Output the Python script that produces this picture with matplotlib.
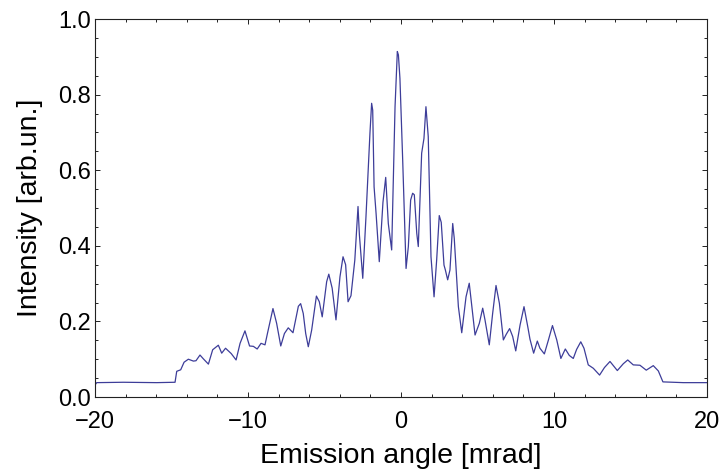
"""
Intensity profile versus emission angle.

Reproduces the measured angular distribution as a framed line plot.
"""

import matplotlib
matplotlib.use("Agg")
import matplotlib.pyplot as plt
from matplotlib.ticker import MultipleLocator


# Values (angle in mrad, intensity in arb. units)
angulo = [
    -20.00, -19.89, -18.15, -15.97, -14.77, -14.66, -14.40, -14.18, -13.90,
    -13.57, -13.40, -13.14, -12.92, -12.59, -12.31, -11.94, -11.72, -11.47,
    -11.10, -10.78, -10.52, -10.20, -9.90, -9.65, -9.40, -9.15, -8.89,
    -8.72, -8.37, -8.13, -7.86, -7.62, -7.37, -7.06, -6.71, -6.56,
    -6.39, -6.23, -6.06, -5.84, -5.53, -5.34, -5.15, -4.86, -4.72,
    -4.50, -4.25, -3.99, -3.79, -3.62, -3.46, -3.27, -3.02, -2.81,
    -2.72, -2.50, -2.29, -2.03, -1.92, -1.85, -1.76, -1.63, -1.42,
    -1.18, -1.00, -0.83, -0.61, -0.39, -0.24, -0.17, -0.07, 0.11,
    0.33, 0.48, 0.63, 0.76, 0.87, 1.03, 1.13, 1.35, 1.50,
    1.63, 1.78, 1.96, 2.16, 2.33, 2.50, 2.63, 2.81, 2.90,
    3.05, 3.20, 3.38, 3.48, 3.75, 3.97, 4.25, 4.46, 4.62,
    4.84, 5.12, 5.34, 5.49, 5.77, 5.99, 6.21, 6.43, 6.69,
    6.88, 7.10, 7.30, 7.50, 7.78, 8.04, 8.29, 8.43, 8.67,
    8.91, 9.08, 9.37, 9.63, 9.90, 10.18, 10.45, 10.74, 11.00,
    11.26, 11.48, 11.75, 11.96, 12.24, 12.57, 12.98, 13.30, 13.66,
    14.14, 14.53, 14.82, 15.18, 15.62, 16.03, 16.49, 16.82, 17.12,
    18.45, 20.00,
]

intensidad = [
    0.032, 0.038, 0.039, 0.038, 0.039, 0.068, 0.072, 0.092, 0.100,
    0.095, 0.096, 0.111, 0.101, 0.087, 0.125, 0.137, 0.116, 0.129,
    0.115, 0.098, 0.142, 0.175, 0.135, 0.134, 0.127, 0.142, 0.138,
    0.170, 0.234, 0.195, 0.135, 0.168, 0.183, 0.170, 0.240, 0.247,
    0.221, 0.168, 0.133, 0.177, 0.267, 0.252, 0.212, 0.305, 0.325,
    0.288, 0.204, 0.318, 0.371, 0.350, 0.252, 0.268, 0.362, 0.504,
    0.429, 0.314, 0.477, 0.698, 0.777, 0.759, 0.556, 0.486, 0.358,
    0.515, 0.581, 0.459, 0.389, 0.768, 0.914, 0.905, 0.843, 0.627,
    0.340, 0.398, 0.521, 0.539, 0.535, 0.433, 0.398, 0.645, 0.684,
    0.768, 0.689, 0.371, 0.265, 0.362, 0.480, 0.462, 0.349, 0.336,
    0.310, 0.336, 0.459, 0.420, 0.239, 0.170, 0.265, 0.301, 0.243,
    0.164, 0.195, 0.235, 0.204, 0.138, 0.221, 0.295, 0.248, 0.151,
    0.166, 0.181, 0.160, 0.122, 0.190, 0.239, 0.185, 0.153, 0.116,
    0.148, 0.129, 0.114, 0.150, 0.189, 0.151, 0.102, 0.127, 0.110,
    0.102, 0.126, 0.146, 0.129, 0.085, 0.076, 0.058, 0.078, 0.094,
    0.070, 0.088, 0.098, 0.085, 0.084, 0.071, 0.083, 0.069, 0.040,
    0.038, 0.038,
]

x_ticks = [-20, -10, 0, 10, 20]
y_ticks = [0.0, 0.2, 0.4, 0.6, 0.8, 1.0]
y_tick_labels = ["0.0", "0.2", "0.4", "0.6", "0.8", "1.0"]


def dibujar_perfil():
    plt.rcParams["font.family"] = ["Liberation Sans", "DejaVu Sans"]

    fig = plt.figure(figsize=(7.26, 4.75), dpi=100)
    ax = fig.add_axes([0.1309, 0.1642, 0.8429, 0.7958])

    ax.plot(angulo, intensidad, color="#3d3d99", linewidth=0.9)

    ax.set_xlim(-20, 20)
    ax.set_ylim(0, 1.0)

    ax.set_xticks(x_ticks)
    ax.set_yticks(y_ticks)
    ax.set_yticklabels(y_tick_labels)
    ax.xaxis.set_minor_locator(MultipleLocator(2))
    ax.yaxis.set_minor_locator(MultipleLocator(0.05))

    # Mathematica-like frame: ticks inside on all four sides
    ax.tick_params(which="both", direction="in", top=True, right=True,
                   width=0.7, color="#222222")
    ax.tick_params(which="major", length=3.8, labelsize=17)
    ax.tick_params(which="minor", length=2.0)
    ax.tick_params(axis="x", which="major", pad=10)
    ax.tick_params(axis="y", which="major", pad=3)
    for spine in ax.spines.values():
        spine.set_linewidth(0.8)
        spine.set_color("#222222")

    ax.set_xlabel("Emission angle [mrad]", fontsize=20.5, labelpad=7)
    ax.set_ylabel("Intensity [arb.un.]", fontsize=20.5, labelpad=11)

    fig.savefig("out.png", dpi=100)
    plt.close(fig)


if __name__ == "__main__":
    dibujar_perfil()
